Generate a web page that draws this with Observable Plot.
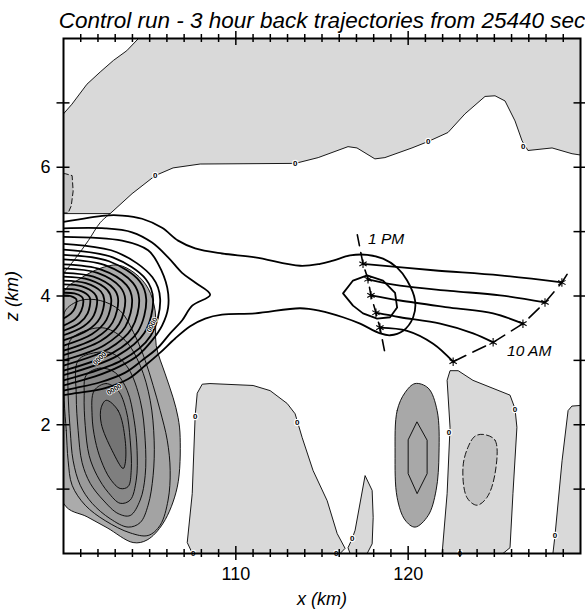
<!DOCTYPE html>
<html><head><meta charset="utf-8">
<script src="https://cdn.jsdelivr.net/npm/d3@7"></script>
<script src="https://cdn.jsdelivr.net/npm/@observablehq/plot@0.6"></script>
<style>body{margin:0;background:#fff}</style>
</head><body><div id="chart"></div>
<script>
// ---------- text ----------
const title = "Control run - 3 hour back trajectories from 25440 sec";
const xLabel = "x (km)";
const zLabel = "z (km)";
const xTickLabels = [110, 120];
const zTickLabels = [2, 4, 6];
const xMinorTicks = [101,102,103,104,105,106,107,108,109,111,112,113,114,115,116,117,118,119,121,122,123,124,125,126,127,128,129];
const xMajorTicks = [110, 120];
const zTicks = [1,2,3,4,5,6,7];

// ---------- shaded (positive) regions, [x km, z km] ----------
const topShade = [[100,6.83],[100.49,6.98],[101.36,7.29],[102.13,7.48],[102.9,7.66],[103.67,7.81],[104.35,8],[130,8],[130,6.19],[129.51,6.21],[128.35,6.30],[126.95,6.26],[126.61,6.41],[126.2,6.72],[125.62,7.03],[125.04,7.11],[124.46,7.10],[123.3,6.83],[122.31,6.54],[121.16,6.40],[120.22,6.30],[118.65,6.15],[118.07,6.13],[117.03,6.30],[116.51,6.32],[114.78,6.15],[113.45,6.06],[107.93,6.05],[106.36,5.99],[105.32,5.87],[103.98,5.59],[102.71,5.28],[100,5.28],[100,6.83]];
const leftPatch = [[100,5.90],[100.1,5.90],[100.5,5.87],[100.56,5.63],[100.45,5.40],[100.27,5.29],[100,5.29],[100,5.90]];
const bottomA = [[107.48,0],[107.18,0.17],[107.47,0.93],[107.64,2.14],[107.76,2.49],[108.05,2.63],[108.5,2.64],[111.0,2.61],[111.99,2.53],[112.98,2.33],[113.44,2.17],[113.85,1.80],[114.48,1.29],[115.3,0.82],[115.88,0.31],[116.34,0.08],[116.05,0],[107.48,0]];
const spike = [[116.63,0],[116.51,0.09],[116.75,0.23],[116.92,0.36],[117.5,1.21],[117.91,0.98],[117.97,0.56],[117.91,0.15],[117.62,0],[116.63,0]];
const bottomB = [[121.97,0],[122.26,0.93],[122.43,1.96],[122.26,2.69],[122.43,2.84],[122.9,2.84],[123.76,2.69],[125.91,2.46],[126.2,2.25],[126.31,1.96],[126.08,0.93],[125.91,0.09],[125.5,0],[121.97,0]];
const bottomBInner = [[124.34,1.85],[125.04,1.76],[125.04,1.24],[124.57,0.87],[123.99,0.75],[123.41,0.87],[123.18,1.34],[123.47,1.65],[123.87,1.82]];
const rightShade = [[128.4,0],[128.52,0.28],[128.93,1.44],[129.28,2.22],[129.5,2.29],[130,2.30],[130,0],[128.4,0]];

// ---------- negative cells ----------
const cellOuter = [[119.24,1.56],[119.36,2.22],[119.82,2.5],[120.4,2.64],[121.16,2.57],[121.68,2.22],[121.79,1.56],[121.62,0.98],[121.16,0.59],[120.4,0.41],[119.82,0.52],[119.36,0.87]];
const cellInner = [[120.52,2.04],[121.1,1.76],[121.1,1.24],[120.52,0.93],[120.0,1.24],[120.0,1.76]];
const blobLevels = [
  [[100,4.05],[100.97,4.27],[102.13,4.43],[103.17,4.48],[104.16,4.35],[104.91,4.12],[105.32,3.77],[105.38,3.23],[105.9,2.79],[106.36,2.42],[106.65,2.11],[106.77,1.8],[106.6,1.03],[105.78,0.47],[104.85,0.21],[104.04,0.17],[102.53,0.4],[101.37,0.57],[100,0.78]],
  [[100.04,2.38],[100.16,1.91],[100.27,1.44],[100.5,1.06],[101.26,0.75],[102.42,0.51],[103.87,0.32],[104.91,0.28],[105.61,0.44],[106.07,0.83],[106.19,1.29],[106.02,1.76],[105.61,2.22],[105.2,2.61],[104.74,3.0],[104.16,3.38],[103.29,3.77],[102.13,3.93],[100.97,3.93],[100.1,3.77],[100,3.46]],
  [[100.39,3.31],[101.26,3.46],[102.42,3.50],[103.58,3.31],[104.45,2.92],[105.03,2.38],[105.26,1.76],[105.2,1.21],[104.91,0.75],[104.45,0.48],[103.75,0.41],[102.71,0.54],[101.66,0.78],[100.97,1.06],[100.56,1.44],[100.39,1.91],[100.27,2.45],[100.27,3.0]],
  [[100.85,3.0],[101.84,3.12],[102.82,3.11],[103.75,2.88],[104.45,2.38],[104.74,1.76],[104.74,1.21],[104.45,0.83],[103.87,0.59],[103.17,0.62],[102.3,0.83],[101.55,1.09],[101.08,1.41],[100.85,1.91],[100.74,2.45]],
  [[101.32,2.77],[102.13,2.88],[103.0,2.81],[103.7,2.53],[104.1,2.07],[104.27,1.60],[104.22,1.14],[103.87,0.83],[103.29,0.78],[102.59,0.95],[101.95,1.21],[101.49,1.52],[101.26,1.99],[101.2,2.45]],
  [[101.78,2.53],[102.48,2.64],[103.17,2.53],[103.64,2.22],[103.87,1.76],[103.93,1.29],[103.75,1.04],[103.29,1.01],[102.71,1.16],[102.19,1.44],[101.84,1.76],[101.66,2.14]],
  [[102.48,2.38],[103.17,2.22],[103.58,1.76],[103.58,1.40],[103.46,1.32],[102.82,1.60],[102.19,2.02],[102.19,2.27]]
];
const zeroLeft = [[102.71,5.28],[102.13,5.14],[101.44,4.86],[100.68,4.58],[100,4.35]];

// ---------- tracer contours (thick) ----------
const bundleA = [[100,5.15],[102.42,5.25],[103.4,5.25],[104.56,5.2],[105.72,5.06],[106.65,4.86],[107.64,4.74],[109.2,4.66],[111.12,4.6],[113.73,4.47],[114.89,4.5],[115.64,4.55],[116.63,4.63],[117.62,4.64],[118.54,4.58],[119.36,4.44],[119.94,4.24],[120.4,3.93],[120.29,3.67],[119.71,3.46],[118.95,3.39],[118.37,3.42],[117.21,3.57],[116.22,3.67],[114.89,3.77],[113.73,3.81],[111.12,3.73],[109.2,3.71],[108.22,3.65],[107.35,3.53],[106.48,3.34],[105.61,3.12],[104.74,2.92],[103.75,2.71],[102.42,2.57],[100.68,2.49],[100,2.46]];
const bundleB = [[100,5.05],[102.42,5.05],[103.98,4.99],[105.14,4.83],[106.07,4.6],[106.88,4.36],[107.64,4.21],[108.51,4.02],[107.47,3.85],[106.88,3.62],[106.19,3.42],[105.49,3.2],[104.56,3.0],[103.58,2.81],[102.13,2.66],[100.68,2.57],[100,2.53]];
const bundleC = [[100,4.92],[103.4,4.86],[104.91,4.71],[105.49,4.5],[106.02,4.13],[106.07,3.82],[105.72,3.54],[105.14,3.31],[104.33,3.08],[103.29,2.91],[101.84,2.75],[100.39,2.64],[100,2.61]];
const bundleArcs = [
  [[100,4.81],[103.09,4.68],[105.16,4.29],[105.61,3.95],[105.05,3.38],[103.37,3.0],[100,2.69]],
  [[100,4.72],[102.86,4.60],[104.78,4.26],[105.2,3.95],[104.68,3.42],[103.12,3.07],[100,2.77]],
  [[100,4.64],[102.64,4.54],[104.42,4.23],[104.8,3.95],[104.32,3.45],[102.88,3.12],[100,2.84]],
  [[100,4.57],[102.41,4.48],[104.04,4.2],[104.39,3.95],[103.95,3.49],[102.63,3.18],[100,2.92]],
  [[100,4.49],[102.19,4.41],[103.66,4.17],[103.98,3.95],[103.58,3.52],[102.39,3.24],[100,3.0]],
  [[100,4.43],[101.97,4.36],[103.29,4.14],[103.58,3.95],[103.22,3.56],[102.15,3.30],[100,3.08]],
  [[100,4.36],[101.74,4.30],[102.92,4.11],[103.17,3.95],[102.85,3.59],[101.9,3.35],[100,3.15]],
  [[100,4.30],[101.52,4.25],[102.55,4.09],[102.77,3.95],[102.49,3.63],[101.66,3.41],[100,3.23]],
  [[100,4.24],[101.3,4.20],[102.17,4.07],[102.36,3.95],[102.12,3.66],[101.42,3.47],[100,3.31]],
  [[100,4.18],[101.07,4.15],[101.79,4.04],[101.95,3.95],[101.76,3.70],[101.17,3.53],[100,3.39]],
  [[100,4.11],[100.85,4.09],[101.43,4.01],[101.55,3.95],[101.4,3.73],[100.93,3.58],[100,3.46]],
  [[100,4.05],[100.63,4.04],[101.05,3.99],[101.14,3.95],[101.03,3.77],[100.68,3.64],[100,3.54]],
  [[100,4.01],[100.41,4.0],[100.74,3.95],[100.67,3.82],[100.44,3.73],[100,3.65]]
];
const loopInner = [[116.22,4.04],[116.8,4.24],[117.62,4.32],[118.54,4.24],[119.24,4.05],[119.36,3.82],[118.95,3.67],[118.2,3.65],[117.38,3.73],[116.8,3.85]];

// ---------- back trajectories ----------
const trajectories = [
  [[117.38,4.5],[121.45,4.4],[125.33,4.32],[128.92,4.21]],
  [[117.67,4.26],[119.53,4.16],[122.43,4.08],[125.33,4.01],[127.94,3.9]],
  [[117.84,4.01],[119.53,3.93],[122.43,3.82],[124.93,3.73],[126.66,3.57]],
  [[118.13,3.74],[119.53,3.67],[121.86,3.57],[123.77,3.42],[124.93,3.28]],
  [[118.36,3.51],[119.94,3.46],[121.45,3.26],[122.61,2.98]]
];
const onePmLine = [[117.05,4.95],[117.38,4.5],[117.67,4.26],[117.84,4.01],[118.13,3.74],[118.36,3.51],[118.7,3.05]];
const tenAmLine = [[122.61,2.98],[124.93,3.28],[126.66,3.57],[127.94,3.9],[128.92,4.21],[129.3,4.37]];
const timeLabels = [{text: "1 PM", x: 117.67, z: 4.89}, {text: "10 AM", x: 125.74, z: 3.15}];

// contour labels
const zeroLabels = [[105.32,5.87],[113.45,6.06],[121.16,6.40],[126.68,6.33],[107.64,2.13],[113.56,2.04],[122.37,1.88],[126.2,2.24],[128.52,0.28],[116.75,0.23],[107.53,0],[115.82,0],[123.0,0]];
const bundleLabels = [[105.14,3.55,-62],[102.1,3.03,-45],[102.95,2.55,-30]];

// ---------- drawing ----------
const LIGHT = "#d9d9d9";
const blobFills = ["#ababab", "#a3a3a3", "#9a9a9a", "#919191", "#888888", "#7f7f7f", "#747474"];
const rows = (polys) => polys.flatMap((p, i) => p.map(([x, y]) => ({id: i, x, y})));
const lineMark = (polys, opts) => Plot.line(rows(polys), {x: "x", y: "y", z: "id", ...opts});
const starPts = trajectories.flatMap(t => [t[0], t[t.length - 1]]);

const chart = Plot.plot({
  width: 585, height: 609,
  marginTop: 38, marginBottom: 56, marginLeft: 63, marginRight: 5,
  x: {domain: [100, 130], axis: null},
  y: {domain: [0, 8], axis: null},
  style: {fontFamily: "'Liberation Sans', Arial, sans-serif", background: "white", color: "black"},
  marks: [
    lineMark([topShade, bottomA, spike, bottomB, rightShade], {fill: LIGHT, stroke: "black", strokeWidth: 0.9, clip: true}),
    lineMark([leftPatch], {fill: "#c4c4c4", stroke: "black", strokeWidth: 0.9, strokeDasharray: "5,3", clip: true}),
    lineMark([bottomBInner], {fill: "#c4c4c4", stroke: "black", strokeWidth: 0.9, strokeDasharray: "6,3", curve: "catmull-rom-closed"}),
    ...blobLevels.map((p, i) => lineMark([p], {fill: blobFills[i], stroke: "black", strokeWidth: 0.9, curve: "catmull-rom-closed", clip: true})),
    lineMark([cellOuter], {fill: "#a8a8a8", stroke: "black", strokeWidth: 0.9, curve: "catmull-rom-closed"}),
    lineMark([cellInner], {stroke: "black", strokeWidth: 0.9, curve: "linear-closed"}),
    lineMark([zeroLeft], {stroke: "black", strokeWidth: 0.9, curve: "catmull-rom", clip: true}),
    lineMark([bundleA, bundleB, bundleC, ...bundleArcs], {stroke: "black", strokeWidth: 1.8, curve: "catmull-rom", clip: true}),
    lineMark([loopInner], {stroke: "black", strokeWidth: 1.8, curve: "linear-closed"}),
    lineMark(trajectories, {stroke: "black", strokeWidth: 1.8, curve: "catmull-rom"}),
    lineMark([onePmLine], {stroke: "black", strokeWidth: 1.6, strokeDasharray: "11,7"}),
    lineMark([tenAmLine], {stroke: "black", strokeWidth: 1.6, strokeDasharray: "14,8"}),
    Plot.dot(starPts, {x: d => d[0], y: d => d[1], symbol: "asterisk", r: 4, stroke: "black", strokeWidth: 1.1}),
    Plot.text(zeroLabels, {x: d => d[0], y: d => d[1], text: () => "0", fontSize: 8, fontWeight: "bold", fill: "black", stroke: "white", strokeWidth: 2.5}),
    Plot.text(bundleLabels, {x: d => d[0], y: d => d[1], rotate: d => d[2], text: () => "0000", fontSize: 7, fontWeight: "bold", fill: "black", stroke: "white", strokeWidth: 1.5}),
    Plot.text(timeLabels, {x: "x", y: "z", text: "text", textAnchor: "start", fontSize: 15.5, fontStyle: "italic"}),
    Plot.frame({stroke: "black", strokeWidth: 2}),
    // ticks crossing the frame
    Plot.ruleX(xMinorTicks, {x: d => d, y1: () => -0.062, y2: () => 0.062, strokeWidth: 1.5}),
    Plot.ruleX(xMinorTicks, {x: d => d, y1: () => 8 - 0.062, y2: () => 8 + 0.062, strokeWidth: 1.5}),
    Plot.ruleX(xMajorTicks, {x: d => d, y1: () => -0.11, y2: () => 0.11, strokeWidth: 1.5}),
    Plot.ruleX(xMajorTicks, {x: d => d, y1: () => 8 - 0.11, y2: () => 8 + 0.11, strokeWidth: 1.5}),
    Plot.ruleY(zTicks, {y: d => d, x1: () => 100 - 0.377, x2: () => 100 + 0.377, strokeWidth: 1.5}),
    Plot.ruleY(zTicks, {y: d => d, x1: () => 130 - 0.377, x2: () => 130 + 0.377, strokeWidth: 1.5}),
    Plot.text(xTickLabels, {x: d => d, y: () => 0, text: d => String(d), dy: 21, fontSize: 18, lineAnchor: "middle"}),
    Plot.text(zTickLabels, {x: () => 100, y: d => d, text: d => String(d), textAnchor: "end", dx: -13, fontSize: 18, lineAnchor: "middle"}),
    Plot.text([xLabel], {frameAnchor: "bottom", dy: 46, fontSize: 18, fontStyle: "italic", textAnchor: "middle", lineAnchor: "middle"}),
    Plot.text([zLabel], {frameAnchor: "left", dx: -51, rotate: -90, fontSize: 18, fontStyle: "italic", textAnchor: "middle", lineAnchor: "middle"}),
    Plot.text([title], {frameAnchor: "top", dy: -18, fontSize: 22.5, fontStyle: "italic", textAnchor: "middle", lineAnchor: "middle"})
  ]
});
document.getElementById("chart").appendChild(chart);
</script>
</body></html>
